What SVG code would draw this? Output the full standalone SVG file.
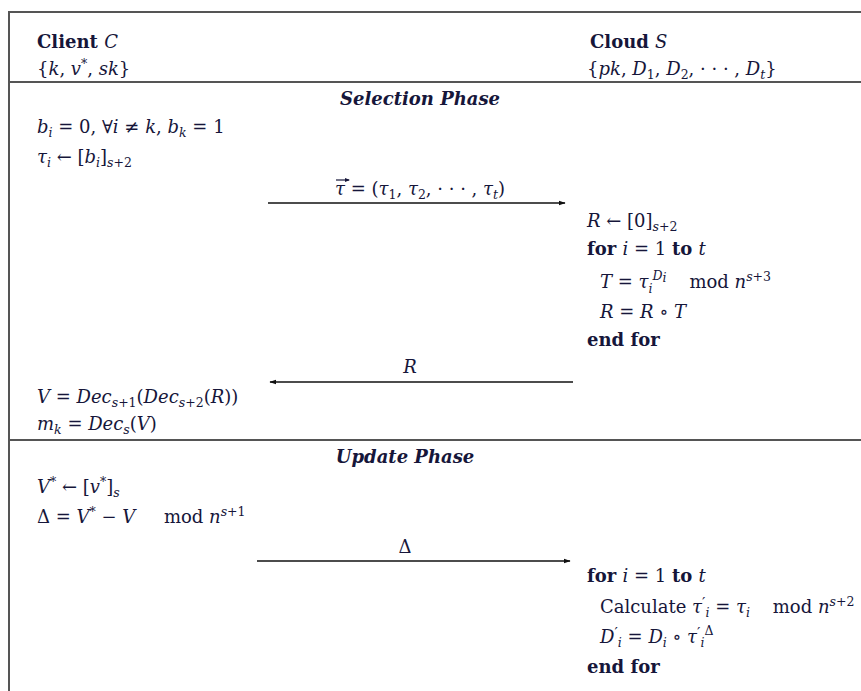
<svg xmlns="http://www.w3.org/2000/svg" width="861" height="691" viewBox="0 0 861 691">
<style>
text{font-family:"DejaVu Serif","Liberation Serif",serif;font-size:18px;fill:#16163a;white-space:pre}
.b{font-weight:bold}
.i{font-style:italic}
.bi{font-weight:bold;font-style:italic}
.s{font-size:12.5px}
.p{font-size:15px}
.frame{stroke:#555;stroke-width:2;fill:none}
.arr{stroke:#111;stroke-width:1.6;fill:none}
</style>
<defs>
<marker id="ah" viewBox="0 0 10 10" refX="9" refY="5" markerWidth="7" markerHeight="7" orient="auto-start-reverse" markerUnits="userSpaceOnUse">
<path d="M0,1.5 L10,5 L0,8.5 z" fill="#111"/>
</marker>
<marker id="sh" viewBox="0 0 10 10" refX="8" refY="5" markerWidth="5" markerHeight="5" orient="auto" markerUnits="userSpaceOnUse">
<path d="M0,1 L10,5 L0,9 z" fill="#16163a"/>
</marker>
</defs>
<rect width="861" height="691" fill="#fff"/>
<g id="frame">
<line class="frame" x1="9" y1="12" x2="861" y2="12"/>
<line class="frame" x1="9" y1="11" x2="9" y2="691"/>
<line class="frame" x1="9" y1="82" x2="861" y2="82"/>
<line class="frame" x1="9" y1="440" x2="861" y2="440"/>
</g>
<g id="client-header">
<text x="37" y="48" xml:space="preserve"><tspan class="b">Client </tspan><tspan class="i">C</tspan></text>
<text x="37" y="75" xml:space="preserve">{<tspan class="i">k</tspan>, <tspan class="i">v</tspan><tspan class="s" dy="-7">*</tspan><tspan dy="7">, </tspan><tspan class="i">sk</tspan>}</text>
</g>
<g id="cloud-header">
<text x="590" y="48" xml:space="preserve"><tspan class="b">Cloud </tspan><tspan class="i">S</tspan></text>
<text x="587" y="75" xml:space="preserve">{<tspan class="i">pk</tspan>, <tspan class="i">D</tspan><tspan class="s" dy="4">1</tspan><tspan dy="-4">, </tspan><tspan class="i">D</tspan><tspan class="s" dy="4">2</tspan><tspan dy="-4">, · · · , </tspan><tspan class="i">D</tspan><tspan class="s i" dy="4">t</tspan><tspan dy="-4">}</tspan></text>
</g>
<g id="selection-phase">
<text class="bi" x="420" y="105" text-anchor="middle">Selection Phase</text>
</g>
<g id="client-selection">
<text x="37" y="133" xml:space="preserve"><tspan class="i">b</tspan><tspan class="s i" dy="4">i</tspan><tspan dy="-4"> = 0, ∀</tspan><tspan class="i">i</tspan> ≠ <tspan class="i">k</tspan>, <tspan class="i">b</tspan><tspan class="s i" dy="4">k</tspan><tspan dy="-4"> = 1</tspan></text>
<text x="37" y="163" xml:space="preserve"><tspan class="i">τ</tspan><tspan class="s i" dy="4">i</tspan><tspan dy="-4"> ← [</tspan><tspan class="i">b</tspan><tspan class="s i" dy="4">i</tspan><tspan dy="-4">]</tspan><tspan class="s" dy="4"><tspan class="i">s</tspan>+2</tspan></text>
<text x="37" y="403" xml:space="preserve"><tspan class="i">V</tspan> = <tspan class="i">Dec</tspan><tspan class="s" dy="4"><tspan class="i">s</tspan>+1</tspan><tspan dy="-4">(</tspan><tspan class="i">Dec</tspan><tspan class="s" dy="4"><tspan class="i">s</tspan>+2</tspan><tspan dy="-4">(</tspan><tspan class="i">R</tspan>))</text>
<text x="37" y="430" xml:space="preserve"><tspan class="i">m</tspan><tspan class="s i" dy="4">k</tspan><tspan dy="-4"> = </tspan><tspan class="i">Dec</tspan><tspan class="s i" dy="4">s</tspan><tspan dy="-4">(</tspan><tspan class="i">V</tspan>)</text>
</g>
<g id="cloud-selection">
<text x="587" y="227" xml:space="preserve"><tspan class="i">R</tspan> ← [0]<tspan class="s" dy="4"><tspan class="i">s</tspan>+2</tspan></text>
<text x="587" y="255" xml:space="preserve"><tspan class="b">for </tspan><tspan class="i">i</tspan> = 1 <tspan class="b">to </tspan><tspan class="i">t</tspan></text>
<text x="600" y="288" xml:space="preserve"><tspan class="i">T</tspan> = <tspan class="i">τ</tspan><tspan class="s i" dy="5">i</tspan><tspan class="s i" dy="-13">D</tspan><tspan class="s i" font-size="9" dy="2">i</tspan><tspan dy="6">    mod </tspan><tspan class="i">n</tspan><tspan class="s" dy="-7"><tspan class="i">s</tspan>+3</tspan></text>
<text x="600" y="318" xml:space="preserve"><tspan class="i">R</tspan> = <tspan class="i">R</tspan> ∘ <tspan class="i">T</tspan></text>
<text class="b" x="587" y="346" xml:space="preserve">end for</text>
</g>
<g id="update-phase">
<text class="bi" x="405" y="463" text-anchor="middle">Update Phase</text>
</g>
<g id="client-update">
<text x="37" y="493" xml:space="preserve"><tspan class="i">V</tspan><tspan class="s" dy="-7">*</tspan><tspan dy="7"> ← [</tspan><tspan class="i">v</tspan><tspan class="s" dy="-7">*</tspan><tspan dy="7">]</tspan><tspan class="s i" dy="4">s</tspan></text>
<text x="37" y="523" xml:space="preserve">Δ = <tspan class="i">V</tspan><tspan class="s" dy="-7">*</tspan><tspan dy="7"> − </tspan><tspan class="i">V</tspan>     mod <tspan class="i">n</tspan><tspan class="s" dy="-7"><tspan class="i">s</tspan>+1</tspan></text>
</g>
<g id="cloud-update">
<text x="587" y="582" xml:space="preserve"><tspan class="b">for </tspan><tspan class="i">i</tspan> = 1 <tspan class="b">to </tspan><tspan class="i">t</tspan></text>
<text x="600" y="613" xml:space="preserve">Calculate <tspan class="i">τ</tspan><tspan class="p" dy="-5">′</tspan><tspan class="s i" dy="9">i</tspan><tspan dy="-4"> = </tspan><tspan class="i">τ</tspan><tspan class="s i" dy="4">i</tspan><tspan dy="-4">    mod </tspan><tspan class="i">n</tspan><tspan class="s" dy="-7"><tspan class="i">s</tspan>+2</tspan></text>
<text x="600" y="643" xml:space="preserve"><tspan class="i">D</tspan><tspan class="p" dy="-5">′</tspan><tspan class="s i" dy="9">i</tspan><tspan dy="-4"> = </tspan><tspan class="i">D</tspan><tspan class="s i" dy="4">i</tspan><tspan dy="-4"> ∘ </tspan><tspan class="i">τ</tspan><tspan class="p" dy="-5">′</tspan><tspan class="s i" dy="9">i</tspan><tspan class="s" dy="-12">Δ</tspan></text>
<text class="b" x="587" y="673" xml:space="preserve">end for</text>
</g>
<g id="connectors">
<line class="arr" x1="268" y1="203" x2="565" y2="203" marker-end="url(#ah)"/>
<text x="335" y="195" xml:space="preserve"><tspan class="i">τ</tspan> = (<tspan class="i">τ</tspan><tspan class="s" dy="4">1</tspan><tspan dy="-4">, </tspan><tspan class="i">τ</tspan><tspan class="s" dy="4">2</tspan><tspan dy="-4">, · · · , </tspan><tspan class="i">τ</tspan><tspan class="s i" dy="4">t</tspan><tspan dy="-4">)</tspan></text>
<line x1="336" y1="180" x2="349" y2="180" stroke="#16163a" stroke-width="1.2" marker-end="url(#sh)"/>
<line class="arr" x1="573" y1="382" x2="270" y2="382" marker-end="url(#ah)"/>
<text class="i" x="410" y="373" text-anchor="middle">R</text>
<line class="arr" x1="257" y1="561" x2="570" y2="561" marker-end="url(#ah)"/>
<text x="405" y="553" text-anchor="middle">Δ</text>
</g>
</svg>
